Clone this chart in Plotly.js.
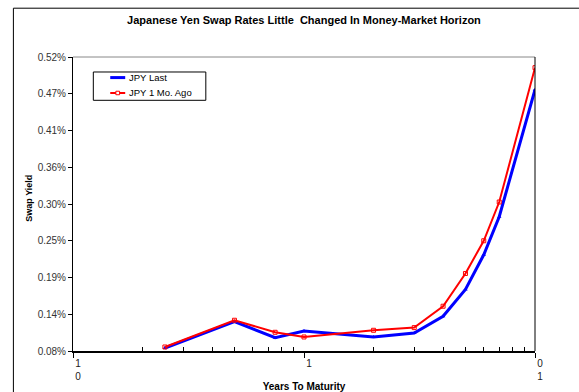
<!DOCTYPE html>
<html>
<head>
<meta charset="utf-8">
<script src="https://cdn.plot.ly/plotly-3.0.1.min.js"></script>
<style>
  html, body { margin: 0; padding: 0; background: #fff; }
  #chart { width: 579px; height: 392px; }
</style>
</head>
<body>
<div id="chart"></div>
<script>
// Tenors in years and swap rates in percent
const tenors = [0.25, 0.5, 0.75, 1, 2, 3, 4, 5, 6, 7, 10];
const jpyLast = [0.0845, 0.124, 0.100, 0.110, 0.101, 0.107, 0.132, 0.172, 0.224, 0.281, 0.471];
const jpyMoAgo = [0.086, 0.126, 0.108, 0.101, 0.111, 0.115, 0.147, 0.196, 0.245, 0.303, 0.504];

const seriesNames = ['JPY Last', 'JPY 1 Mo. Ago'];
const seriesColors = ['#0000ff', '#ff0000'];

const yTickVals = [0.08, 0.135, 0.19, 0.245, 0.30, 0.355, 0.41, 0.465, 0.52];
const yTickText = ['0.08%', '0.14%', '0.19%', '0.25%', '0.30%', '0.36%', '0.41%', '0.47%', '0.52%'];
const xTickVals = [0.1, 1, 10];
const xTickText = ['1<br>0', '1', '0<br>1'];
const xMinorVals = [0.2, 0.3, 0.4, 0.5, 0.6, 0.7, 0.8, 0.9, 2, 3, 4, 5, 6, 7, 8, 9];

const traces = [
  {
    name: seriesNames[0],
    x: tenors, y: jpyLast,
    type: 'scatter', mode: 'lines+markers',
    line: { color: seriesColors[0], width: 3 },
    marker: { symbol: 'triangle-up', size: 4, color: seriesColors[0] }
  },
  {
    name: seriesNames[1],
    x: tenors, y: jpyMoAgo,
    type: 'scatter', mode: 'lines+markers',
    line: { color: seriesColors[1], width: 2 },
    marker: { symbol: 'square-open', size: 4, color: seriesColors[1], line: { width: 1 } }
  }
];

// Compact boxed legend drawn in paper coordinates
const legendBox = { x0: 0.044, x1: 0.2875, y0: 0.8527, y1: 0.949 };
const legendRows = [0.930, 0.8776];
const sampleX = [0.0806, 0.113];
const textX = 0.1174;

const shapes = [
  // outer chart frame
  { type: 'line', xref: 'paper', yref: 'paper', x0: -0.129, x1: -0.129, y0: 1.166, y1: -0.2, line: { color: '#000', width: 1 } },
  { type: 'line', xref: 'paper', yref: 'paper', x0: -0.129, x1: 1.2, y0: 1.166, y1: 1.166, line: { color: '#000', width: 1 } },
  // plot area top and right edges
  { type: 'line', xref: 'paper', yref: 'paper', x0: 0, x1: 1, y0: 1, y1: 1, line: { color: '#888', width: 1 } },
  { type: 'line', xref: 'paper', yref: 'paper', x0: 1, x1: 1, y0: 0, y1: 1, line: { color: '#000', width: 1 } },
  // legend box
  { type: 'rect', xref: 'paper', yref: 'paper', x0: legendBox.x0, x1: legendBox.x1, y0: legendBox.y0, y1: legendBox.y1,
    line: { color: '#000', width: 1 }, fillcolor: '#fff', layer: 'above' }
];
const annotations = [
  {
    text: '<b>Swap Yield</b>', xref: 'paper', yref: 'paper',
    x: -0.094, y: 0.52, xanchor: 'center', yanchor: 'middle', textangle: -90, showarrow: false,
    font: { size: 9, color: '#000' }
  }
];

seriesNames.forEach((name, i) => {
  const yRow = legendRows[i];
  const mid = (sampleX[0] + sampleX[1]) / 2;
  shapes.push({ type: 'line', xref: 'paper', yref: 'paper', x0: sampleX[0], x1: sampleX[1], y0: yRow, y1: yRow,
    line: { color: seriesColors[i], width: i === 0 ? 3 : 2 }, layer: 'above' });
  if (i === 1) {
    shapes.push({ type: 'rect', xref: 'paper', yref: 'paper', x0: mid - 0.004, x1: mid + 0.004, y0: yRow - 0.006, y1: yRow + 0.006,
      line: { color: seriesColors[i], width: 1 }, fillcolor: '#fff', layer: 'above' });
  }
  annotations.push({
    text: name, xref: 'paper', yref: 'paper', x: textX, y: yRow,
    xanchor: 'left', yanchor: 'middle', showarrow: false,
    font: { size: 9.5, color: '#000' }
  });
});

const layout = {
  width: 579, height: 392,
  margin: { l: 73, r: 44, t: 57, b: 41, pad: 0 },
  paper_bgcolor: '#ffffff', plot_bgcolor: '#ffffff',
  font: { family: 'Liberation Sans, Arial, sans-serif', size: 10, color: '#222' },
  showlegend: false,
  title: {
    text: '<b>Japanese Yen Swap Rates Little  Changed In Money-Market Horizon</b>',
    font: { size: 11, color: '#000' },
    x: 0.525, xanchor: 'center', y: 0.948, yanchor: 'middle'
  },
  xaxis: {
    type: 'log', range: [-1, 1],
    tickmode: 'array', tickvals: xTickVals, ticktext: xTickText,
    ticks: 'outside', ticklen: 5, tickcolor: '#000', tickwidth: 1,
    ticklabelshift: 5, ticklabelstandoff: -3,
    minor: { tickmode: 'array', tickvals: xMinorVals, ticks: 'inside', ticklen: 4, tickcolor: '#000', showgrid: false },
    showline: true, linecolor: '#000', linewidth: 2,
    showgrid: false, zeroline: false,
    tickfont: { size: 10, color: '#222' },
    title: { text: '<b>Years To Maturity</b>', font: { size: 10, color: '#000' }, standoff: 2 }
  },
  yaxis: {
    range: [0.08, 0.52],
    tickmode: 'array', tickvals: yTickVals, ticktext: yTickText,
    ticks: 'outside', ticklen: 4, tickcolor: '#000',
    showline: true, linecolor: '#000', linewidth: 1,
    showgrid: false, zeroline: false,
    tickfont: { size: 10, color: '#333' }
  },
  annotations: annotations,
  shapes: shapes
};

Plotly.newPlot('chart', traces, layout, { displayModeBar: false, staticPlot: true });
</script>
</body>
</html>
